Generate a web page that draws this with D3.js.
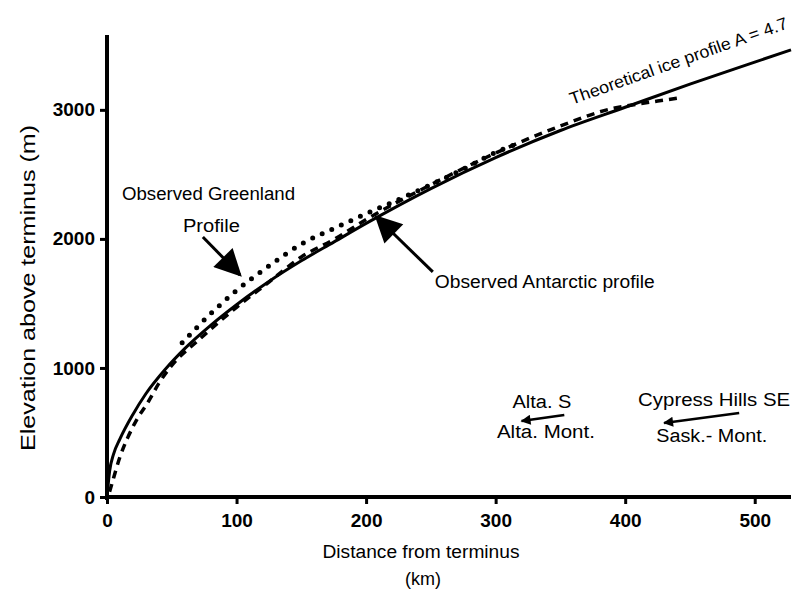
<!DOCTYPE html>
<html>
<head>
<meta charset="utf-8">
<script src="https://cdn.jsdelivr.net/npm/d3@7"></script>
<style>
  body { margin: 0; background: #fff; }
  svg text { font-family: "Liberation Sans", Arial, Helvetica, sans-serif; fill: #000; }
</style>
</head>
<body>
<svg id="chart" width="800" height="594"></svg>
<script>
// distance from terminus (km), elevation (m)
var theoretical = [[0,0],[2,200],[5,330],[10,450],[20,640],[30,800],[45,990],[60,1150],[80,1330],[100,1490],
  [125,1670],[150,1830],[175,1975],[200,2120],[250,2390],[300,2630],[350,2840],[400,3020],[450,3200],[500,3370],[528,3465]];
var greenland = [[58,1195],[80,1420],[100,1600],[125,1790],[150,1960],[175,2080],[200,2195],[225,2305],
  [250,2420],[275,2540],[300,2670],[320,2750]];
var antarctic = [[2,40],[4,110],[10,310],[16,460],[23,600],[32,740],[40,880],[50,1020],[70,1210],[100,1470],
  [125,1665],[150,1860],[175,1995],[200,2150],[250,2420],[300,2665],[350,2875],[390,3010],[410,3045],[425,3068],[440,3090]];

var xTicks = [0, 100, 200, 300, 400, 500];
var yTicks = [0, 1000, 2000, 3000];

// labels and arrows (km, m); w = width of the text in the scan
var labels = [
  {text: "Observed Greenland", x: 11.6, y: 2302, w: 173},
  {text: "Profile", x: 58.6, y: 2054, w: 57},
  {text: "Observed Antarctic profile", x: 253, y: 1620, w: 220},
  {text: "Alta. S", x: 313, y: 690, w: 59},
  {text: "Alta. Mont.", x: 301, y: 457, w: 98},
  {text: "Cypress Hills SE", x: 410, y: 705, w: 152},
  {text: "Sask.- Mont.", x: 424, y: 426, w: 111}
];
var bigArrows = [
  {x1: 74, y1: 2015, x2: 102.6, y2: 1721},
  {x1: 251.5, y1: 1744, x2: 208, y2: 2170}
];
var smallArrows = [
  {x1: 353, y1: 636, x2: 320, y2: 589},
  {x1: 488, y1: 651, x2: 430, y2: 574}
];
var curveLabel = {text: "Theoretical ice profile A = 4.7", x: 359, y: 3040, angle: -19.5, w: 230};

var svg = d3.select("#chart");
var x = d3.scaleLinear().domain([0, 528]).range([107, 791]);
var y = d3.scaleLinear().domain([0, 3580]).range([497, 35]);

var line = d3.line()
    .x(function (d) { return x(d[0]); })
    .y(function (d) { return y(d[1]); })
    .curve(d3.curveMonotoneX);

// axes
var xAxis = svg.append("g").attr("transform", "translate(0," + y(0) + ")")
    .call(d3.axisBottom(x).tickValues(xTicks).tickSize(7).tickPadding(10).tickFormat(d3.format("d")));
var yAxis = svg.append("g").attr("transform", "translate(" + x(0) + ",0)")
    .call(d3.axisLeft(y).tickValues(yTicks).tickSize(7).tickPadding(5).tickFormat(d3.format("d")));
[xAxis, yAxis].forEach(function (g) {
    g.select(".domain").attr("stroke", "#000").attr("stroke-width", 4);
    g.selectAll(".tick line").attr("stroke", "#000").attr("stroke-width", 3);
    g.selectAll(".tick text").attr("font-size", 19).attr("font-weight", "bold")
        .attr("font-family", "\"Liberation Sans\", Arial, sans-serif");
});
xAxis.select(".domain").attr("d", "M" + x(0) + ",0H" + x(528));
yAxis.select(".domain").attr("d", "M0," + y(3580) + "V" + (y(0) + 3));

// axis titles
svg.append("text").attr("x", 421).attr("y", 558).attr("text-anchor", "middle")
    .attr("font-size", 18).attr("textLength", 197).attr("lengthAdjust", "spacingAndGlyphs")
    .text("Distance from terminus");
svg.append("text").attr("x", 423).attr("y", 585).attr("text-anchor", "middle")
    .attr("font-size", 18).text("(km)");
svg.append("text").attr("transform", "translate(35,288) rotate(-90)").attr("text-anchor", "middle")
    .attr("font-size", 20).attr("textLength", 326).attr("lengthAdjust", "spacingAndGlyphs")
    .text("Elevation above terminus (m)");

// curves
svg.append("path").datum(theoretical).attr("d", line)
    .attr("fill", "none").attr("stroke", "#000").attr("stroke-width", 3);
svg.append("path").datum(antarctic).attr("d", line)
    .attr("fill", "none").attr("stroke", "#000").attr("stroke-width", 3.5).attr("stroke-dasharray", "8 6");
svg.append("path").datum(greenland).attr("d", line)
    .attr("fill", "none").attr("stroke", "#000").attr("stroke-width", 5)
    .attr("stroke-linecap", "round").attr("stroke-dasharray", "0 10.5");

// arrows
var defs = svg.append("defs");
defs.append("marker").attr("id", "bighead").attr("viewBox", "0 0 10 10").attr("refX", 9).attr("refY", 5)
    .attr("markerWidth", 10).attr("markerHeight", 9).attr("markerUnits", "strokeWidth").attr("orient", "auto")
    .append("path").attr("d", "M0,0L10,5L0,10Z").attr("fill", "#000");
defs.append("marker").attr("id", "smallhead").attr("viewBox", "0 0 10 10").attr("refX", 9).attr("refY", 5)
    .attr("markerWidth", 5).attr("markerHeight", 4).attr("markerUnits", "strokeWidth").attr("orient", "auto")
    .append("path").attr("d", "M0,0L10,5L0,10Z").attr("fill", "#000");

svg.selectAll(".big-arrow").data(bigArrows).enter().append("line").attr("class", "big-arrow")
    .attr("x1", function (d) { return x(d.x1); }).attr("y1", function (d) { return y(d.y1); })
    .attr("x2", function (d) { return x(d.x2); }).attr("y2", function (d) { return y(d.y2); })
    .attr("stroke", "#000").attr("stroke-width", 3).attr("marker-end", "url(#bighead)");
svg.selectAll(".small-arrow").data(smallArrows).enter().append("line").attr("class", "small-arrow")
    .attr("x1", function (d) { return x(d.x1); }).attr("y1", function (d) { return y(d.y1); })
    .attr("x2", function (d) { return x(d.x2); }).attr("y2", function (d) { return y(d.y2); })
    .attr("stroke", "#000").attr("stroke-width", 2.5).attr("marker-end", "url(#smallhead)");

// annotation text
svg.selectAll(".note").data(labels).enter().append("text").attr("class", "note")
    .attr("x", function (d) { return x(d.x); }).attr("y", function (d) { return y(d.y); })
    .attr("font-size", 18).attr("textLength", function (d) { return d.w; })
    .attr("lengthAdjust", "spacingAndGlyphs").text(function (d) { return d.text; });
svg.append("text")
    .attr("transform", "translate(" + x(curveLabel.x) + "," + y(curveLabel.y) + ") rotate(" + curveLabel.angle + ")")
    .attr("font-size", 17).attr("textLength", curveLabel.w).attr("lengthAdjust", "spacingAndGlyphs")
    .text(curveLabel.text);
</script>
</body>
</html>
